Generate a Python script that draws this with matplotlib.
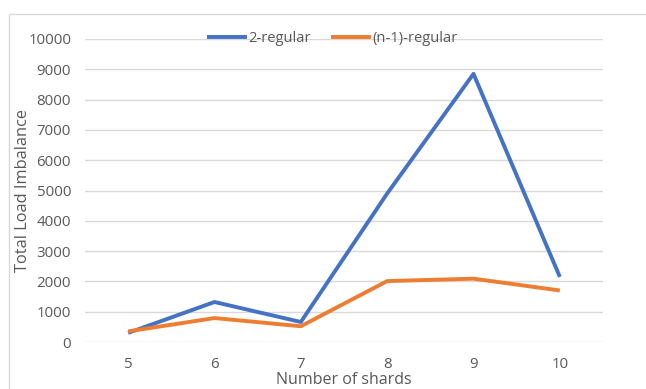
import matplotlib.pyplot as plt
from matplotlib.patches import Rectangle

shards = [5, 6, 7, 8, 9, 10]
two_regular = [300, 1320, 660, 4900, 8850, 2150]
n1_regular = [350, 790, 520, 2010, 2090, 1700]
y_ticks = list(range(0, 10001, 1000))

plt.rcParams['font.family'] = ['Open Sans', 'DejaVu Sans']

fig = plt.figure(figsize=(6.46, 3.89), dpi=100)
ax = fig.add_axes([85/646, 1 - 342/389, 518/646, 303/389])

ax.plot(shards, two_regular, color='#4472C4', lw=2.8, label='2-regular', solid_capstyle='butt')
ax.plot(shards, n1_regular, color='#ED7D31', lw=2.8, label='(n-1)-regular', solid_capstyle='butt')

ax.set_xlim(4.5, 10.5)
ax.set_ylim(0, 10000)
ax.set_xticks(shards)
ax.set_yticks(y_ticks)
ax.grid(axis='y', color='#D9D9D9', lw=1)
ax.set_axisbelow(True)
for s in ax.spines.values():
    s.set_visible(False)
ax.tick_params(length=0, colors='#595959', labelsize=10.8)
ax.tick_params(axis='x', pad=11)
ax.tick_params(axis='y', pad=10)

ax.set_xlabel('Number of shards', fontsize=11.5, color='#595959', labelpad=0)
ax.set_ylabel('Total Load Imbalance', fontsize=11.8, color='#595959')
ax.yaxis.set_label_coords(-54/518, 0.5)

leg = ax.legend(loc='center', bbox_to_anchor=(247/518, 1.0), ncol=2, frameon=False,
                fontsize=10.6, handlelength=2.75, handletextpad=0.05, columnspacing=1.4,
                borderaxespad=0, borderpad=0)
for t in leg.get_texts():
    t.set_color('#595959')

# chart border
fig.patches.append(Rectangle((9/646, -0.1), 1.0, 1 - 14/389 + 0.1, transform=fig.transFigure,
                             fill=False, edgecolor='#D9D9D9', lw=1))

fig.savefig('out.png', dpi=100)
